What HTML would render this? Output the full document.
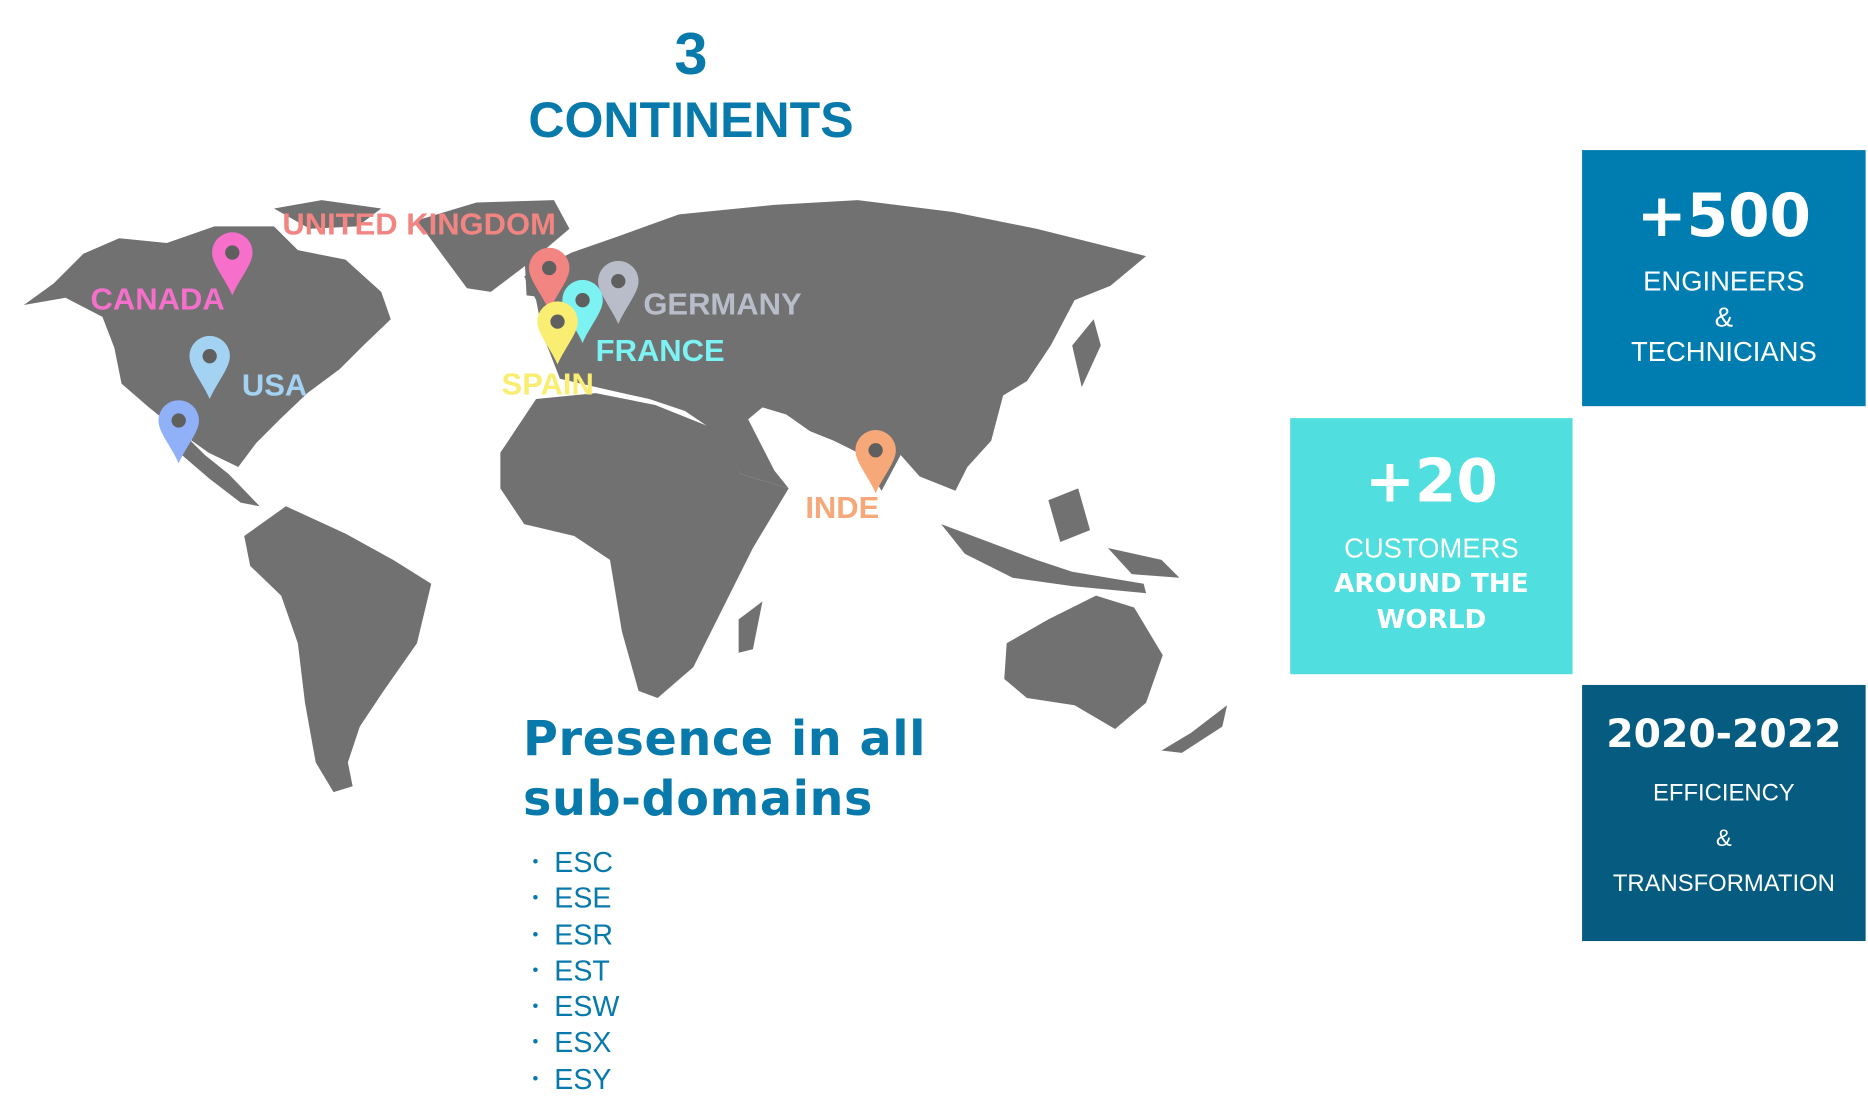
<!DOCTYPE html>
<html><head><meta charset="utf-8">
<style>
html,body{margin:0;padding:0;background:#fff;width:1868px;height:1109px;overflow:hidden}
#stage{position:absolute;left:0;top:0;width:1568px;height:931px;transform-origin:0 0;transform:scale(1.19133,1.1912);font-family:"Liberation Sans",Arial,sans-serif}
.t{position:absolute;white-space:nowrap}
.box{position:absolute;color:#fff;text-align:center}
.box div{position:absolute;left:0;right:0}
</style></head><body>
<div id="stage">
<div class="t" style="left:480px;width:200px;text-align:center;top:16px;font-size:50px;font-weight:bold;color:#0879ab">3</div>
<div class="t" style="left:380px;width:400px;text-align:center;top:77px;font-size:42px;font-weight:bold;color:#0879ab">CONTINENTS</div>

<svg id="map" width="1568" height="931" style="position:absolute;left:0;top:0">
<g fill="#717171" id="land"></g>
<g id="pins"></g>
</svg>

<div class="t" style="left:439px;top:596px;font-size:40px;line-height:50px;font-weight:bold;color:#0879ab;font-family:'DejaVu Sans','Liberation Sans',sans-serif;letter-spacing:0.5px">Presence in all<br>sub-domains</div>
<div class="t" style="left:447px;top:709px;font-size:24px;line-height:29.3px;color:#0879ab">
<div><span style="font-size:14px;vertical-align:4px">•</span>&nbsp; ESC</div>
<div><span style="font-size:14px;vertical-align:4px">•</span>&nbsp; ESE</div>
<div><span style="font-size:14px;vertical-align:4px">•</span>&nbsp; ESR</div>
<div><span style="font-size:14px;vertical-align:4px">•</span>&nbsp; EST</div>
<div><span style="font-size:14px;vertical-align:4px">•</span>&nbsp; ESW</div>
<div><span style="font-size:14px;vertical-align:4px">•</span>&nbsp; ESX</div>
<div><span style="font-size:14px;vertical-align:4px">•</span>&nbsp; ESY</div>
</div>

<div class="box" style="left:1328px;top:126px;width:238px;height:215px;background:#007db0">
<div style="top:26px;font-size:50px;font-weight:900;font-family:'DejaVu Sans','Liberation Sans',sans-serif">+500</div>
<div style="top:96px;font-size:23px;line-height:29.5px">ENGINEERS<br>&amp;<br>TECHNICIANS</div>
</div>
<div class="box" style="left:1083px;top:351px;width:237px;height:215px;background:#50dede">
<div style="top:24px;font-size:50px;font-weight:900;font-family:'DejaVu Sans','Liberation Sans',sans-serif">+20</div>
<div style="top:95px;font-size:23px;line-height:29px">CUSTOMERS<br><b style="font-family:'DejaVu Sans','Liberation Sans',sans-serif;font-size:22px">AROUND THE<br>WORLD</b></div>
</div>
<div class="box" style="left:1328px;top:575px;width:238px;height:215px;background:#055b80">
<div style="top:21px;font-size:33px;font-weight:900;font-family:'DejaVu Sans','Liberation Sans',sans-serif">2020-2022</div>
<div style="top:72px;font-size:20px;line-height:38px">EFFICIENCY<br>&amp;<br>TRANSFORMATION</div>
</div>
</div>
<script>
const continents=[
[[20,256],[45,238],[70,213],[100,200],[140,204],[180,190],[230,190],[250,210],[290,218],[320,245],[328,268],[305,290],[285,310],[258,330],[235,352],[215,372],[200,392],[175,380],[150,362],[125,342],[102,322],[96,292],[86,266],[55,250]],
[[150,360],[172,382],[192,398],[218,425],[202,422],[176,402],[148,378]],
[[350,185],[400,170],[465,168],[478,192],[445,220],[412,245],[392,242],[372,215]],
[[230,175],[270,168],[320,175],[300,190],[260,192]],
[[205,450],[240,425],[290,448],[330,470],[362,490],[350,540],[322,580],[302,610],[292,640],[296,660],[280,665],[265,640],[256,590],[250,540],[236,500],[210,475]],
[[420,380],[450,335],[500,330],[550,340],[600,360],[622,398],[662,410],[632,460],[612,500],[582,560],[552,586],[536,580],[522,530],[512,470],[482,450],[440,440],[420,410]],
[[440,232],[480,212],[520,198],[570,180],[650,172],[720,168],[800,178],[870,192],[962,215],[932,240],[902,252],[882,290],[862,320],[842,332],[832,370],[812,392],[802,412],[772,400],[756,382],[740,412],[720,380],[700,370],[680,362],[660,348],[640,342],[628,352],[650,395],[662,410],[622,398],[600,362],[575,345],[545,335],[505,326],[470,318],[456,282],[450,252]],
[[440,210],[455,205],[462,230],[458,250],[442,248]],
[[900,290],[918,268],[924,290],[908,325]],
[[790,440],[830,455],[870,470],[900,480],[960,490],[962,498],[900,492],[850,485],[810,465]],
[[880,420],[905,410],[915,445],[890,455]],
[[930,460],[975,470],[990,485],[950,482]],
[[845,540],[880,520],[920,500],[952,510],[976,550],[962,590],[936,612],[902,592],[862,586],[843,570]],
[[975,630],[1000,615],[1030,592],[1026,610],[992,632]],
[[620,520],[640,505],[632,545],[620,548]]
];
const pinNames=["canada","united-kingdom","germany","france","spain","usa","mexico","inde"];
const pinX=[195,461,519,489,468,176,150,735];
const pinY=[212,225,236,252,270,299,353,378];
const pinColors=["#f66fcb","#f28482","#b9bdca","#7cf2f2","#f9ee72","#a4d2f2","#90b0f8","#f6a878"];
const labels=["CANADA","UNITED KINGDOM","GERMANY","FRANCE","SPAIN","USA","","INDE"];
const labelX=[76,237,540,500,421,203,0,676];
const labelY=[260,197,264,303,331,332,0,435];
const NS="http://www.w3.org/2000/svg";
const land=document.getElementById('land');
continents.forEach(function(poly){
 const p=document.createElementNS(NS,'polygon');
 p.setAttribute('points',poly.map(function(q){return q.join(',');}).join(' '));
 
 
 land.appendChild(p);
});
const pins=document.getElementById('pins');
const texts=[];
pinX.forEach(function(cx,i){
 const cy=pinY[i],r=17;
 const g=document.createElementNS(NS,'g');
 
 
 const path=document.createElementNS(NS,'path');
 path.setAttribute('d','M'+cx+','+(cy+36)+' C'+(cx-6)+','+(cy+22)+' '+(cx-r)+','+(cy+10)+' '+(cx-r)+','+cy+' A'+r+' '+r+' 0 1 1 '+(cx+r)+','+cy+' C'+(cx+r)+','+(cy+10)+' '+(cx+6)+','+(cy+22)+' '+cx+','+(cy+36)+' Z');
 path.setAttribute('fill',pinColors[i]);
 g.appendChild(path);
 const c=document.createElementNS(NS,'circle');
 c.setAttribute('cx',cx);c.setAttribute('cy',cy);c.setAttribute('r',6);c.setAttribute('fill','#5f5f5f');
 g.appendChild(c);
 pins.appendChild(g);
 if(labels[i]){
  const t=document.createElementNS(NS,'text');
  
  
  t.setAttribute('x',labelX[i]);t.setAttribute('y',labelY[i]);
  t.setAttribute('fill',pinColors[i]);
  t.setAttribute('font-size','26');t.setAttribute('font-weight','bold');
  t.setAttribute('font-family','Liberation Sans, sans-serif');
  t.textContent=labels[i];
  texts.push(t);
 }
});
texts.forEach(function(t){pins.appendChild(t);});
</script>
</body></html>
